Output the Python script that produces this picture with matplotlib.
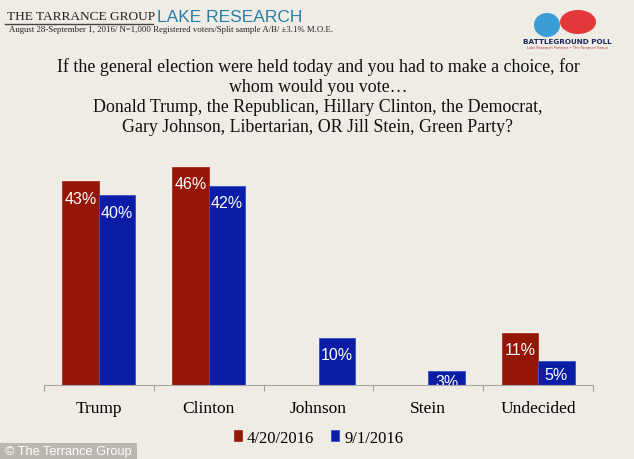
import numpy as np
import matplotlib.pyplot as plt
from matplotlib.patches import Ellipse

# data
categories = ['Trump', 'Clinton', 'Johnson', 'Stein', 'Undecided']
april = [43, 46, 0, 0, 11]      # 4/20/2016 (no value for Johnson/Stein)
sept = [40, 42, 10, 3, 5]       # 9/1/2016
series_names = ['4/20/2016', '9/1/2016']

red = '#931607'
blue = '#0b1ca6'
bg = '#eeece5'

fig = plt.figure(figsize=(6.34, 4.6), dpi=100, facecolor=bg)

# chart area
ax = fig.add_axes([44 / 634, 74 / 460, 549 / 634, 237 / 460])
ax.set_facecolor('none')
x = np.arange(len(categories))
w = 0.333
b1 = ax.bar(x - w / 2, april, w, color=red, edgecolor='#a83020', linewidth=0.6)
b2 = ax.bar(x + w / 2, sept, w, color=blue, edgecolor='#3550c8', linewidth=0.6)

for bars, vals in [(b1, april), (b2, sept)]:
    for rect, v in zip(bars, vals):
        if v == 0:
            continue
        off = min(2.0, 0.25 * v)
        ax.text(rect.get_x() + rect.get_width() / 2, v - off, f'{v}%',
                ha='center', va='top', color='white', fontsize=11.5,
                family='Liberation Sans', clip_on=True)

ax.set_xlim(-0.5, len(categories) - 0.5)
ax.set_ylim(0, 50)
ax.set_yticks([])
ax.set_xticks(np.arange(len(categories) + 1) - 0.5)
ax.set_xticklabels([])
ax.set_xticks(x, minor=True)
ax.set_xticklabels(categories, minor=True, family='Liberation Serif', fontsize=12.5)
ax.tick_params(axis='x', which='major', length=4, color='#a0a0a0', direction='out')
ax.tick_params(axis='x', which='minor', length=0, pad=11)
for s in ['top', 'right', 'left']:
    ax.spines[s].set_visible(False)
ax.spines['bottom'].set_color('#a8a8a8')
ax.spines['bottom'].set_linewidth(0.8)

# legend
leg = ax.legend([b1, b2], series_names, loc='upper center', bbox_to_anchor=(0.5, -0.125),
                ncol=2, frameon=False, handlelength=0.5, handleheight=0.6,
                handletextpad=0.3, columnspacing=1.0,
                prop={'family': 'Liberation Serif', 'size': 12})

# question title
question = ('If the general election were held today and you had to make a choice, for\n'
            'whom would you vote\u2026\n'
            'Donald Trump, the Republican, Hillary Clinton, the Democrat,\n'
            'Gary Johnson, Libertarian, OR Jill Stein, Green Party?')
fig.text(318 / 634, 1 - 97 / 460, question, ha='center', va='center',
         family='Liberation Serif', fontsize=12.9, linespacing=1.25, color='#111111')

# header
fig.text(7 / 634, 1 - 17 / 460, 'THE TARRANCE GROUP', ha='left', va='center',
         family='Liberation Serif', fontsize=9.6, color='#222222')
fig.add_artist(plt.Line2D([5 / 634, 153 / 634], [1 - 24.5 / 460, 1 - 24.5 / 460],
                          color='#444444', linewidth=1))
fig.text(157 / 634, 1 - 17 / 460, 'LAKE RESEARCH', ha='left', va='center',
         family='Liberation Sans', fontsize=12.5, color='#2a7fa6')
fig.text(9 / 634, 1 - 30.5 / 460,
         'August 28-September 1, 2016/ N=1,000 Registered voters/Split sample A/B/ \u00b13.1% M.O.E.',
         ha='left', va='center', family='Liberation Serif', fontsize=6.3, color='#222222')

# logo stand-in: two coloured blobs and the poll name
for cx, cy, ew, eh, col in [(547, 26, 26, 24, '#3a9fd6'), (578, 23, 36, 24, '#e2383a')]:
    fig.patches.append(Ellipse((cx / 634, 1 - cy / 460), ew / 634, eh / 460,
                               transform=fig.transFigure, facecolor=col, edgecolor='none'))
fig.text(567 / 634, 1 - 42 / 460, 'BATTLEGROUND POLL', ha='center', va='center',
         family='DejaVu Sans', fontsize=5.2, weight='bold', color='#1a2a5a')
fig.text(567 / 634, 1 - 48 / 460, 'Lake Research Partners \u2022 The Tarrance Group', ha='center',
         va='center', family='DejaVu Sans', fontsize=2.5, color='#c03030')

# credit box
fig.patches.append(plt.Rectangle((0, 0), 137 / 634, 16 / 460, transform=fig.transFigure,
                                 facecolor='#b9b7b0', edgecolor='none'))
fig.text(5 / 634, 8 / 460, '\u00a9 The Terrance Group', ha='left', va='center',
         family='Liberation Sans', fontsize=9.2, color='white')

fig.savefig('out.png', dpi=100, facecolor=bg)
